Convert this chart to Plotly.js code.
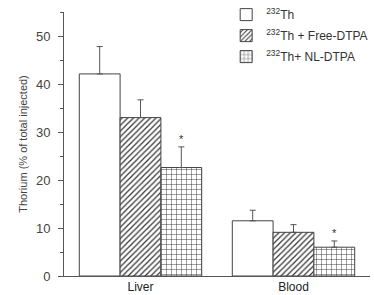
<!DOCTYPE html>
<html>
<head>
<meta charset="utf-8">
<script src="https://cdn.plot.ly/plotly-3.0.1.min.js"></script>
<style>html,body{margin:0;padding:0;background:#fff;}#chart{width:374px;height:295px;}</style>
</head>
<body>
<div id="chart"></div>
<script>
var categories = ['Liver', 'Blood'];
var seriesNames = ['<sup>232</sup>Th', '<sup>232</sup>Th + Free-DTPA', '<sup>232</sup>Th+ NL-DTPA'];
var thOnly = [42.1, 11.5];
var thOnlyErr = [5.7, 2.2];
var thFree = [33.0, 9.1];
var thFreeErr = [3.7, 1.6];
var thNL = [22.6, 6.0];
var thNLErr = [4.3, 1.3];
var significant = [true, true];
var yTicks = [0, 10, 20, 30, 40, 50];

var edge = '#444';
function errs(a) {
  return {type: 'data', symmetric: false, array: a, arrayminus: a.map(function(){return 0;}),
          color: '#555', thickness: 1, width: 3};
}
var traces = [
  {type: 'bar', name: seriesNames[0], legendgroup: 'a', x: categories, y: thOnly, error_y: errs(thOnlyErr),
   marker: {color: 'white', line: {color: edge, width: 1}}},
  {type: 'bar', name: seriesNames[1], legendgroup: 'b', x: categories, y: thFree, error_y: errs(thFreeErr),
   marker: {color: 'white', line: {color: edge, width: 1},
            pattern: {shape: '/', size: 4, solidity: 0.3, fgcolor: '#333', bgcolor: 'white'}}},
  {type: 'bar', name: seriesNames[2], legendgroup: 'c', x: categories, y: thNL, error_y: errs(thNLErr),
   marker: {color: 'white', line: {color: edge, width: 1},
            pattern: {shape: '+', size: 5, solidity: 0.18, fgcolor: '#333', bgcolor: 'white'}}}
];

var annotations = [];
var groupW = 0.8, nS = 3;
categories.forEach(function(c, i) {
  if (significant[i]) {
    annotations.push({x: i + groupW / nS, y: thNL[i] + thNLErr[i], xref: 'x', yref: 'y',
      text: '*', showarrow: false, yanchor: 'bottom', yshift: 0,
      font: {family: 'Liberation Sans, Arial, sans-serif', size: 11, color: '#333'}});
  }
});

var layout = {
  width: 374, height: 295,
  margin: {l: 64, r: 4, t: 12, b: 19, autoexpand: false},
  paper_bgcolor: 'white', plot_bgcolor: 'white',
  font: {family: 'Liberation Sans, Arial, sans-serif', color: '#333'},
  barmode: 'group', bargap: 0.2, bargroupgap: 0,
  showlegend: true,
  legend: {x: 0.53, y: 1.045, xanchor: 'left', yanchor: 'top', bgcolor: 'rgba(0,0,0,0)',
           font: {size: 12, color: '#333'}, traceorder: 'grouped', tracegroupgap: 2, itemwidth: 30},
  xaxis: {type: 'category', range: [-0.5, 1.5], showline: true, linecolor: '#555', linewidth: 1,
          ticks: '', showgrid: false, zeroline: false, automargin: false,
          tickfont: {size: 12, color: '#222'}},
  yaxis: {range: [0, 55], tickvals: yTicks, showline: true, linecolor: '#555', linewidth: 1,
          ticks: 'outside', ticklen: 5, tickcolor: '#555', showgrid: false, zeroline: false,
          ticklabelstandoff: 5, automargin: false,
          minor: {dtick: 5, ticks: 'outside', ticklen: 3, tickcolor: '#555'},
          tickfont: {size: 13, color: '#444'},
          title: {text: 'Thorium (% of total injected)', font: {size: 11, color: '#444'}, standoff: 6}},
  annotations: annotations
};
Plotly.newPlot('chart', traces, layout, {displayModeBar: false, staticPlot: true});
</script>
</body>
</html>
